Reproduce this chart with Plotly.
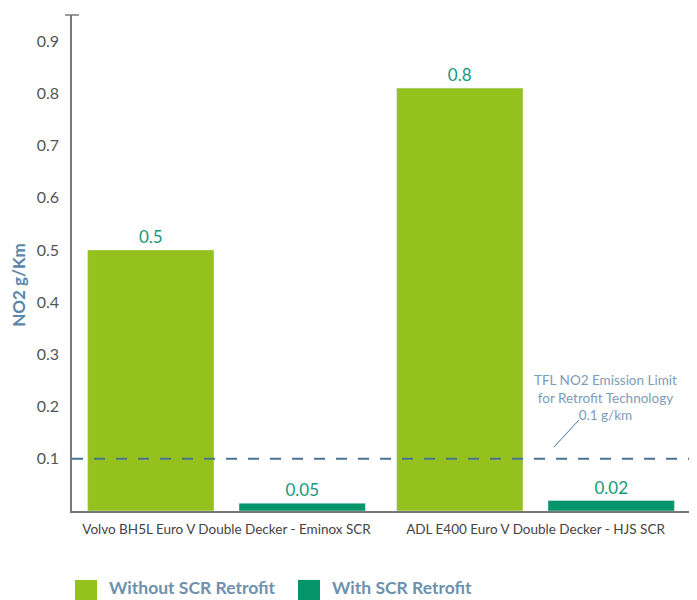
import plotly.graph_objects as go

categories = ["Volvo BH5L Euro V Double Decker - Eminox SCR",
              "ADL E400 Euro V Double Decker - HJS SCR"]
without_scr = [0.5, 0.81]
with_scr = [0.015, 0.02]
without_labels = ["0.5", "0.8"]
with_labels = ["0.05", "0.02"]
y_ticks = [0.1, 0.2, 0.3, 0.4, 0.5, 0.6, 0.7, 0.8, 0.9]
limit_value = 0.1
series_names = ["Without SCR Retrofit", "With SCR Retrofit"]
limit_text = "TFL NO2 Emission Limit<br>for Retrofit Technology<br>0.1 g/km"
y_title = "NO2 g/Km"

LIGHT = "#95C11F"
DARK = "#05956A"
LABEL = "#15997A"
BLUE = "#6E91AD"
FONT = "Lato"

fig = go.Figure()
fig.add_trace(go.Bar(x=categories, y=without_scr, name=series_names[0],
                     marker_color=LIGHT, text=without_labels, textposition="outside",
                     textfont=dict(color=LABEL, size=17, family=FONT), cliponaxis=False))
fig.add_trace(go.Bar(x=categories, y=with_scr, name=series_names[1],
                     marker_color=DARK, text=with_labels, textposition="outside",
                     textfont=dict(color=LABEL, size=17, family=FONT), cliponaxis=False))

# limit line
fig.add_shape(type="line", xref="paper", yref="y", x0=0, x1=1, y0=limit_value, y1=limit_value,
              line=dict(color="#4A7393", width=2, dash="11px,11px"))
# leader line for annotation
fig.add_shape(type="line", xref="paper", yref="y", x0=0.780, x1=0.820, y0=0.1226, y1=0.174,
              line=dict(color="#4A7393", width=1))
fig.add_annotation(text=limit_text, xref="paper", yref="y", x=0.8625, y=0.218,
                   xanchor="center", yanchor="middle",
                   showarrow=False, font=dict(color="#7C9CB8", size=13.5, family=FONT),
                   align="center")
# y title
fig.add_annotation(text="<b>" + y_title + "</b>", xref="paper", yref="paper",
                   x=-0.0858, y=0.456, textangle=-90, showarrow=False,
                   xanchor="center", yanchor="middle",
                   font=dict(color="#5A86AA", size=17, family=FONT))
# top cap tick on y axis
fig.add_shape(type="line", xref="paper", yref="paper", x0=-0.0113, x1=0.0113, y0=1, y1=1,
              line=dict(color="#777777", width=1.5))
# right end tick on x axis
fig.add_shape(type="line", xref="paper", yref="paper", x0=1, x1=1, y0=0, y1=-0.012,
              line=dict(color="#777777", width=1.5))

# custom legend
legend_x = [0.00485, 0.3657]
for i, (nm, col) in enumerate(zip(series_names, [LIGHT, DARK])):
    fig.add_shape(type="rect", xref="paper", yref="paper",
                  x0=legend_x[i], x1=legend_x[i] + 0.0356, y0=-0.139, y1=-0.185,
                  fillcolor=col, line=dict(width=0))
    fig.add_annotation(text="<b>" + nm + "</b>", xref="paper", yref="paper",
                       x=legend_x[i] + 0.0518, y=-0.155, xanchor="left", yanchor="middle",
                       showarrow=False, font=dict(color=BLUE, size=17.5, family=FONT))

fig.update_layout(
    width=689, height=592,
    margin=dict(l=64, r=7, t=7, b=89, autoexpand=False),
    paper_bgcolor="white", plot_bgcolor="white",
    barmode="group", bargap=0.02, bargroupgap=0.165,
    showlegend=False,
    font=dict(family=FONT),
    xaxis=dict(showline=True, linecolor="#777777", linewidth=1.5, ticks="", automargin=False,
               ticklabelstandoff=5,
               tickfont=dict(size=13.5, color="#444444", family=FONT), showgrid=False),
    yaxis=dict(range=[0, 0.95], tickvals=y_ticks, ticktext=[str(v) for v in y_ticks],
               showline=True, linecolor="#777777", linewidth=1.5, showgrid=False,
               zeroline=False, ticks="", ticklabelstandoff=8, automargin=False,
               tickfont=dict(size=16, color="#555555", family=FONT)),
)

fig.write_html("out.html")
